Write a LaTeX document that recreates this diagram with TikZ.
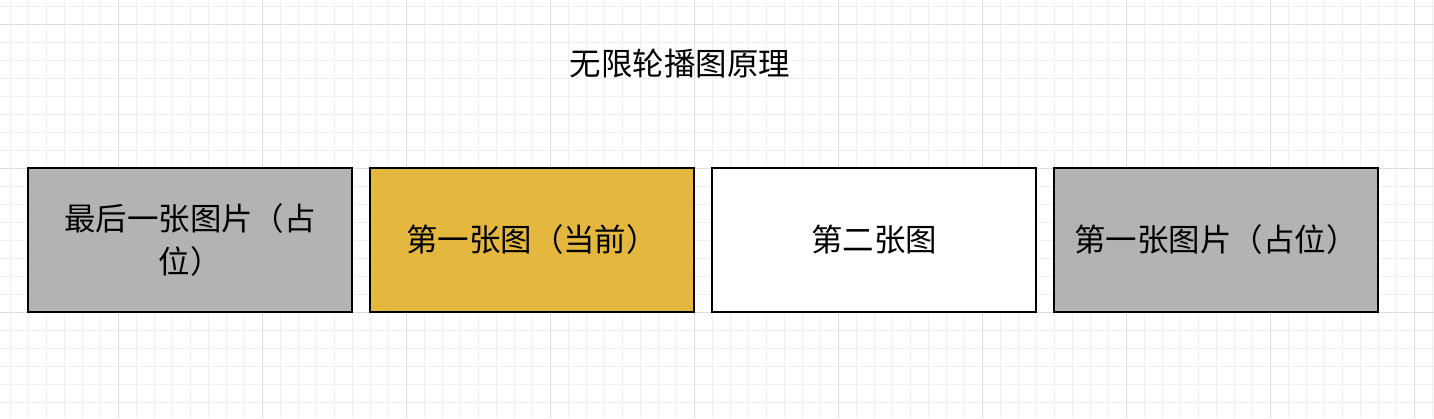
\documentclass[tikz,border=0pt]{standalone}
\usepackage{fontspec}
\newfontfamily\cjk{Noto Sans CJK SC}
\definecolor{minorgrid}{HTML}{F0F0F0}
\definecolor{majorgrid}{HTML}{DEDEDE}
\definecolor{slidegray}{HTML}{B3B3B3}
\definecolor{slideyellow}{HTML}{E4B83F}
\tikzset{
  minorline/.style={draw=minorgrid, line width=0.75pt},
  majorline/.style={draw=majorgrid, line width=0.75pt},
  slide/.style={draw=black, line width=1.3pt, minimum width=243pt, minimum height=107.5pt,
    inner sep=0pt, outer sep=0pt, align=center, font=\cjk\fontsize{23.6pt}{32.2pt}\selectfont},
  titletext/.style={inner sep=0pt, font=\cjk\fontsize{23.6pt}{30pt}\selectfont}
}
\begin{document}
\begin{tikzpicture}[x=0.75pt, y=-0.75pt]
\useasboundingbox (0,0) rectangle (1434,418);
\fill[white] (0,0) rectangle (1434,418);
\foreach \x in {10,28,...,1432} \draw[minorline] (\x,0) -- (\x,418);
\foreach \y in {6,24,...,416} \draw[minorline] (0,\y) -- (1434,\y);
\foreach \x in {118,262,...,1414} \draw[majorline] (\x,0) -- (\x,418);
\foreach \y in {24,168,312} \draw[majorline] (0,\y) -- (1434,\y);
\node[titletext] (title) at (680,64) {无限轮播图原理};
\node[slide, fill=slidegray] (s1) at (190,240) {最后一张图片（占\\位）};
\node[slide, fill=slideyellow] (s2) at (532,240) {第一张图（当前）};
\node[slide, fill=white] (s3) at (874,240) {第二张图};
\node[slide, fill=slidegray] (s4) at (1216,240) {第一张图片（占位）};
\end{tikzpicture}
\end{document}
